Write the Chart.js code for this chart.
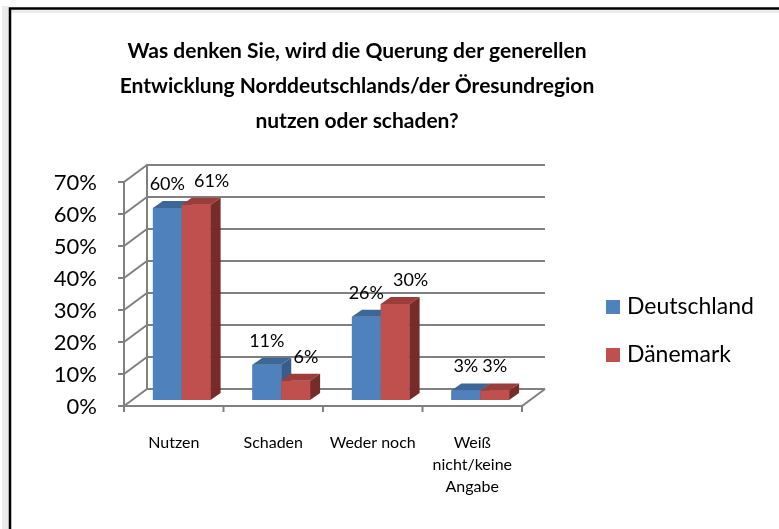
<!DOCTYPE html>
<html>
<head>
<meta charset="utf-8">
<script src="https://cdn.jsdelivr.net/npm/chart.js@4/dist/chart.umd.min.js"></script>
<style>
html, body { margin: 0; padding: 0; background: #fff; }
</style>
</head>
<body>
<canvas id="chart" width="779" height="529"></canvas>
<script>
// data
const titleLines = [
    'Was denken Sie, wird die Querung der generellen',
    'Entwicklung Norddeutschlands/der Öresundregion',
    'nutzen oder schaden?'
];
const categories = [['Nutzen'], ['Schaden'], ['Weder noch'], ['Weiß', 'nicht/keine', 'Angabe']];
const seriesNames = ['Deutschland', 'Dänemark'];
const deutschland = [60, 11, 26, 3];
const daenemark = [61, 6, 30, 3];
const yTicks = [0, 10, 20, 30, 40, 50, 60, 70];

const FONT = 'Lato, "Open Sans", sans-serif';
const front = { dx: -8, dy: 6 };    // front plane relative to bar plane
const back = { dx: 15, dy: -11 };   // back wall relative to bar plane
const barDepth = { dx: 10, dy: -7 };
const faces = [
    { top: '#3d6797', side: '#385d8a' },
    { top: '#9b3e3b', side: '#772c2a' }
];
const gridColor = '#808080';

function line(ctx, pts) {
    ctx.beginPath();
    ctx.moveTo(pts[0][0], pts[0][1]);
    for (let i = 1; i < pts.length; i++) ctx.lineTo(pts[i][0], pts[i][1]);
    ctx.stroke();
}
function poly(ctx, pts, color) {
    ctx.beginPath();
    ctx.moveTo(pts[0][0], pts[0][1]);
    for (let i = 1; i < pts.length; i++) ctx.lineTo(pts[i][0], pts[i][1]);
    ctx.closePath();
    ctx.fillStyle = color;
    ctx.fill();
}

const threeD = {
    id: 'threeD',
    beforeDatasetsDraw(chart) {
        const ctx = chart.ctx;
        const xs = chart.scales.x, ys = chart.scales.y;
        const a = chart.chartArea;
        ctx.save();

        // outer frame with a soft shadow
        ctx.fillStyle = 'rgba(0,0,0,0.08)';
        ctx.fillRect(2, 6, 7, 523);
        ctx.fillRect(9, 10, 770, 3);
        ctx.strokeStyle = '#000';
        ctx.lineWidth = 2.5;
        line(ctx, [[10, 529], [10, 8.5], [779, 8.5]]);

        // title
        ctx.fillStyle = '#000';
        ctx.font = 'bold 21px ' + FONT;
        ctx.textAlign = 'center';
        ctx.textBaseline = 'alphabetic';
        titleLines.forEach((t, i) => ctx.fillText(t, 357, 58 + i * 35));

        // back wall and side wall gridlines
        ctx.strokeStyle = gridColor;
        ctx.lineWidth = 2;
        yTicks.forEach(v => {
            const y = ys.getPixelForValue(v);
            line(ctx, [[a.left + front.dx, y + front.dy], [a.left + back.dx, y + back.dy], [a.right + back.dx, y + back.dy]]);
        });
        // floor and front axis
        const y0 = ys.getPixelForValue(0), yTop = ys.getPixelForValue(yTicks[yTicks.length - 1]);
        line(ctx, [[a.left + front.dx, yTop + front.dy], [a.left + front.dx, y0 + front.dy], [a.right + front.dx, y0 + front.dy], [a.right + back.dx, y0 + back.dy]]);
        line(ctx, [[a.left + back.dx, y0 + back.dy], [a.left + back.dx, yTop + back.dy]]);

        // y ticks and labels
        ctx.fillStyle = '#000';
        ctx.font = '22px ' + FONT;
        ctx.textAlign = 'right';
        ctx.textBaseline = 'middle';
        yTicks.forEach(v => {
            const y = ys.getPixelForValue(v) + front.dy;
            line(ctx, [[a.left + front.dx - 6, y], [a.left + front.dx, y]]);
            ctx.fillText(v + '%', 97, y + 1);
        });

        // category ticks and labels
        const n = categories.length;
        const cw = (a.right - a.left) / n;
        for (let i = 0; i <= n; i++) {
            const x = a.left + i * cw + front.dx;
            line(ctx, [[x, y0 + front.dy], [x, y0 + front.dy + 6]]);
        }
        ctx.font = '16px ' + FONT;
        ctx.textAlign = 'center';
        ctx.textBaseline = 'alphabetic';
        categories.forEach((lines, i) => {
            const x = xs.getPixelForValue(i) + front.dx;
            lines.forEach((t, k) => ctx.fillText(t, x, 448 + k * 22));
        });

        // legend
        ctx.font = '23px ' + FONT;
        ctx.textAlign = 'left';
        ctx.textBaseline = 'middle';
        chart.data.datasets.forEach((ds, i) => {
            const y = 307 + i * 48;
            ctx.fillStyle = ds.backgroundColor;
            ctx.fillRect(606, y - 7, 14, 14);
            ctx.fillStyle = '#000';
            ctx.fillText(ds.label, 627, y);
        });
        ctx.restore();
    },
    afterDatasetsDraw(chart) {
        const ctx = chart.ctx;
        const metas = chart.data.datasets.map((d, i) => chart.getDatasetMeta(i));
        ctx.save();
        // redraw each box front, top, side in painter's order
        categories.forEach((c, j) => {
            metas.forEach((meta, i) => {
                const bar = meta.data[j];
                const p = bar.getProps(['x', 'y', 'base', 'width'], true);
                const l = p.x - p.width / 2, r = p.x + p.width / 2;
                bar.draw(ctx);
                poly(ctx, [[l, p.y], [l + barDepth.dx, p.y + barDepth.dy], [r + barDepth.dx, p.y + barDepth.dy], [r, p.y]], faces[i].top);
                poly(ctx, [[r, p.y], [r + barDepth.dx, p.y + barDepth.dy], [r + barDepth.dx, p.base + barDepth.dy], [r, p.base]], faces[i].side);
            });
        });
        // data labels, pushed right when they would collide
        ctx.fillStyle = '#000';
        ctx.font = '18px ' + FONT;
        ctx.textAlign = 'left';
        ctx.textBaseline = 'alphabetic';
        categories.forEach((c, j) => {
            let prevRight = -Infinity;
            metas.forEach((meta, i) => {
                const bar = meta.data[j];
                const p = bar.getProps(['x', 'y'], true);
                const t = chart.data.datasets[i].data[j] + '%';
                const w = ctx.measureText(t).width;
                let left = p.x - w / 2;
                if (left < prevRight) left = prevRight + 9;
                ctx.fillText(t, left, p.y - 18);
                prevRight = left + w;
            });
        });
        ctx.restore();
    }
};

new Chart(document.getElementById('chart').getContext('2d'), {
    type: 'bar',
    data: {
        labels: categories,
        datasets: [
            { label: seriesNames[0], data: deutschland, backgroundColor: '#4f81bd' },
            { label: seriesNames[1], data: daenemark, backgroundColor: '#c0504d' }
        ]
    },
    options: {
        responsive: false,
        animation: false,
        devicePixelRatio: 1,
        layout: { padding: { left: 132, right: 249, top: 176, bottom: 129 } },
        datasets: { bar: { categoryPercentage: 0.58, barPercentage: 1 } },
        scales: {
            x: { display: false },
            y: { display: false, min: 0, max: 70 }
        },
        plugins: {
            legend: { display: false },
            title: { display: false },
            tooltip: { enabled: false }
        }
    },
    plugins: [threeD]
});
</script>
</body>
</html>
